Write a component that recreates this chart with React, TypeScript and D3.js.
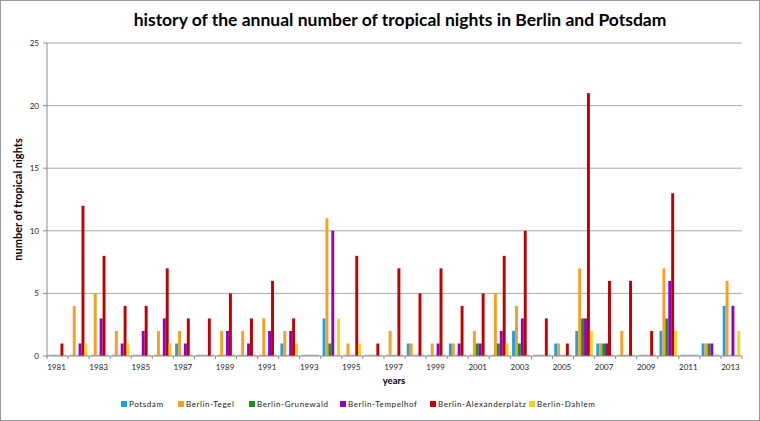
import React from "react";
import * as d3 from "d3";

const years = d3.range(1981, 2014).map(String);
const tickYears = years.filter((y) => +y % 2 === 1);
const yTicks = [0, 5, 10, 15, 20, 25];

const seriesNames = ["Potsdam", "Berlin-Tegel", "Berlin-Grunewald", "Berlin-Tempelhof", "Berlin-Alexanderplatz", "Berlin-Dahlem"];
const seriesColors = ["#1e9fe6", "#f5a023", "#1b931b", "#9100c4", "#c10000", "#f9d11c"];

const potsdam = [0,0,0,0,0,0,1,0,0,0,0,1,0,3,0,0,0,1,0,1,0,0,2,0,1,2,1,0,0,2,0,1,4];
const tegel = [0,4,5,2,0,2,2,0,2,2,3,2,0,11,1,0,2,1,1,1,2,5,4,0,1,7,1,2,0,7,0,1,6];
const grunewald = [0,0,0,0,0,0,0,0,0,0,0,0,0,1,0,0,0,0,0,0,1,1,1,0,0,3,1,0,0,3,0,1,0];
const tempelhof = [0,1,3,1,2,3,1,0,2,1,2,2,0,10,0,0,0,0,1,1,1,2,3,0,0,3,1,0,0,6,0,1,4];
const alexanderplatz = [1,12,8,4,4,7,3,3,5,3,6,3,0,0,8,1,7,5,7,4,5,8,10,3,1,21,6,6,2,13,0,0,0];
const dahlem = [0,1,0,1,0,1,0,0,0,0,0,1,0,3,1,0,0,0,0,0,0,1,0,0,0,2,0,0,0,2,0,0,2];

const seriesValues = [potsdam, tegel, grunewald, tempelhof, alexanderplatz, dahlem];

const W = 760, H = 421;
const left = 47, right = 742, top = 43, bottom = 356;

export default function App() {
  const x = d3.scaleBand<string>().domain(years).range([left, right]).paddingInner(0).paddingOuter(0);
  const xi = d3.scaleBand<string>().domain(seriesNames).range([0, x.bandwidth()]).paddingInner(0).paddingOuter(0.6);
  const y = d3.scaleLinear().domain([0, 25]).range([bottom, top]);
  const font = "Lato, 'Open Sans', sans-serif";
  const legendX = [124, 181, 252, 343, 433, 532];

  return (
    <svg width={W} height={H} style={{ position: "absolute", left: 0, top: 0, background: "#fff" }} fontFamily={font}>
      <rect x={0.5} y={0.5} width={W - 1} height={H - 1} fill="#fff" stroke="#9a9a9a" />
      <text x={400} y={26} textAnchor="middle" fontSize={17.5} fontWeight="bold" fill="#000">
        history of the annual number of tropical nights in Berlin  and Potsdam
      </text>
      {yTicks.map((t) => (
        <g key={t}>
          {t > 0 && <line x1={left} x2={right} y1={y(t)} y2={y(t)} stroke="#a8a8a8" strokeWidth={1} />}
          <line x1={left - 4} x2={left} y1={y(t)} y2={y(t)} stroke="#8a8a8a" />
          <text x={left - 8} y={y(t) + 3} textAnchor="end" fontSize={8} fill="#222">{t}</text>
        </g>
      ))}
      <line x1={left} x2={left} y1={top} y2={bottom} stroke="#8a8a8a" />
      {years.map((yr, i) => (
        <g key={yr}>
          {seriesNames.map((s, k) => {
            const v = seriesValues[k][i];
            const bx = (x(yr) as number) + (xi(s) as number);
            if (v === 0) {
              return <rect key={s} x={bx} y={y(0) - 1.5} width={xi.bandwidth()} height={1.5} fill="#b8c4d0" />;
            }
            return (
              <rect key={s} x={bx} y={y(v)} width={xi.bandwidth()} height={y(0) - y(v)} fill={seriesColors[k]} />
            );
          })}
        </g>
      ))}
      <line x1={left} x2={right} y1={bottom} y2={bottom} stroke="#8a8a8a" />
      {years.map((yr) => (
        <line key={yr} x1={x(yr) as number} x2={x(yr) as number} y1={bottom} y2={bottom + 3} stroke="#8a8a8a" />
      ))}
      <line x1={right} x2={right} y1={bottom} y2={bottom + 3} stroke="#8a8a8a" />
      {tickYears.map((yr) => (
        <text key={yr} x={(x(yr) as number) + x.bandwidth() / 2 - 1} y={370} textAnchor="middle" fontSize={8} fill="#222">{yr}</text>
      ))}
      <text x={394} y={384} textAnchor="middle" fontSize={9.5} fontWeight="bold" fill="#000">years</text>
      <text transform={`translate(22,${(top + bottom) / 2}) rotate(-90)`} textAnchor="middle" fontSize={11} fontWeight="bold" fill="#000">
        number of tropical nights
      </text>
      {seriesNames.map((s, k) => (
        <g key={s}>
          <rect x={legendX[k] - 3} y={401} width={6} height={6} fill={seriesColors[k]} />
          <text x={legendX[k] + 5} y={407} fontSize={8} letterSpacing={0.6} fill="#222">{s}</text>
        </g>
      ))}
    </svg>
  );
}
